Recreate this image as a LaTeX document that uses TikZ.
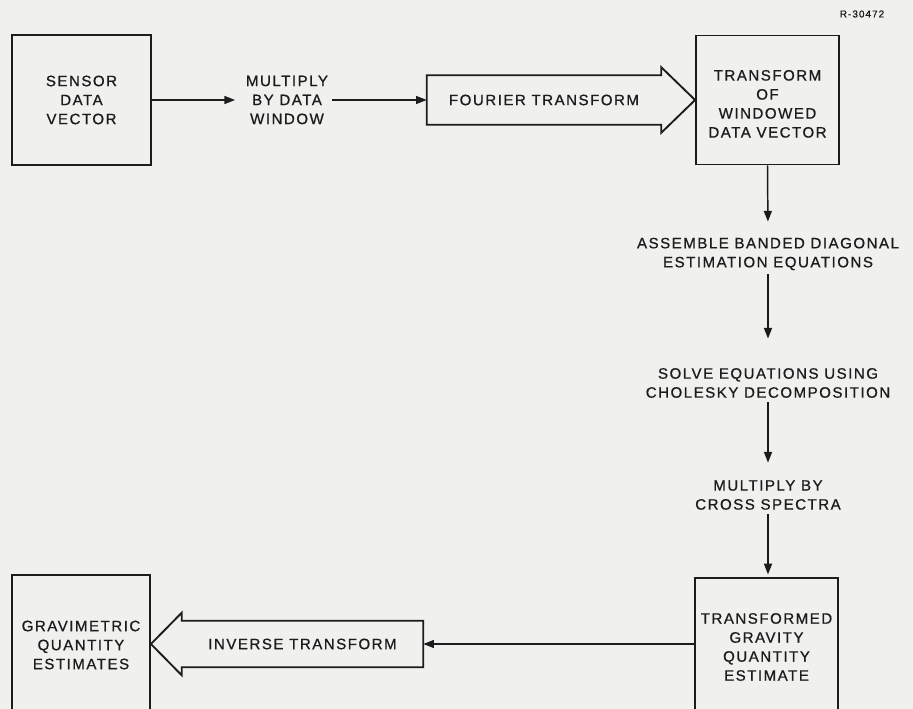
\documentclass[tikz,border=0pt]{standalone}
\usepackage{fontspec}
\setmainfont{Liberation Sans}[LetterSpace=10,FakeBold=0.8]
\usetikzlibrary{arrows.meta,calc}
\definecolor{bg}{RGB}{240,240,238}
\definecolor{ink}{RGB}{28,28,28}
\begin{document}
\begin{tikzpicture}[x=0.75pt,y=-0.75pt,
  txt/.style={align=center,inner sep=3pt,text=ink,font=\fontsize{11.3}{14.25}\selectfont},
  box/.style={txt,draw=ink,line width=1.4pt},
  bigarrow/.style={draw=ink,line width=1.4pt,line join=miter},
  conn/.style={draw=ink,line width=1.1pt,-{Triangle[length=8pt,width=6pt]}}]
\useasboundingbox (0,0) rectangle (913,709);
\clip (0,0) rectangle (913,709);
\fill[bg] (0,0) rectangle (913,709);

\node[box,minimum width=104.25pt,minimum height=97.5pt] (sensor) at (81.5,100) {SENSOR\\DATA\\VECTOR};
\node[txt] (mult) at (287,100) {MULTIPLY\\BY DATA\\WINDOW};
\node[txt,inner sep=0pt,minimum width=175.5pt,minimum height=36.75pt] (fourier) at (544,100) {FOURIER TRANSFORM};
\node[box,minimum width=107.25pt,minimum height=96.75pt,text height=56.5pt] (trans) at (767.5,100) {TRANSFORM\\OF\\WINDOWED\\DATA VECTOR};
\node[txt] (assemble) at (768,254) {ASSEMBLE BANDED DIAGONAL\\ESTIMATION EQUATIONS};
\node[txt] (solve) at (768,383) {SOLVE EQUATIONS USING\\CHOLESKY DECOMPOSITION};
\node[txt] (cross) at (768,495) {MULTIPLY BY\\CROSS SPECTRA};
\node[box,minimum width=107.25pt,minimum height=103.5pt] (trans2) at (766.5,647) {TRANSFORMED\\GRAVITY\\QUANTITY\\ESTIMATE};
\node[txt,inner sep=0pt,minimum width=180.75pt,minimum height=34.5pt] (inverse) at (302.5,644) {INVERSE TRANSFORM};
\node[box,minimum width=103.5pt,minimum height=105pt] (grav) at (81,645) {GRAVIMETRIC\\QUANTITY\\ESTIMATES};
\node[txt,inner sep=0pt,font=\fontsize{7.5}{8}\selectfont] (ref) at (862,14) {R-30472};

% big hollow arrows
\draw[bigarrow] (fourier.south west) -- (fourier.north west) -- (fourier.north east) -- ++(0,-8)
  -- (trans.west |- fourier.east) -- ($(fourier.south east)+(0,8)$) -- (fourier.south east) -- cycle;
\draw[bigarrow] (inverse.north east) -- (inverse.north west) -- ++(0,-8)
  -- (grav.east |- inverse.west) -- ($(inverse.south west)+(0,8)$) -- (inverse.south west) -- (inverse.south east) -- cycle;

% connectors
\draw[conn,shorten >=5pt] (sensor.east) -- (mult.west);
\draw[conn] (mult.east) -- (fourier.west);
\draw[conn,shorten >=9pt] (trans.south) -- (assemble.north);
\draw[conn,shorten >=19pt] (assemble.south) -- (solve.north);
\draw[conn,shorten >=10pt] (solve.south) -- (cross.north);
\draw[conn,shorten >=2pt] (cross.south) -- (cross.south |- trans2.north);
\draw[conn] (trans2.west |- inverse.east) -- (inverse.east);
\end{tikzpicture}
\end{document}
